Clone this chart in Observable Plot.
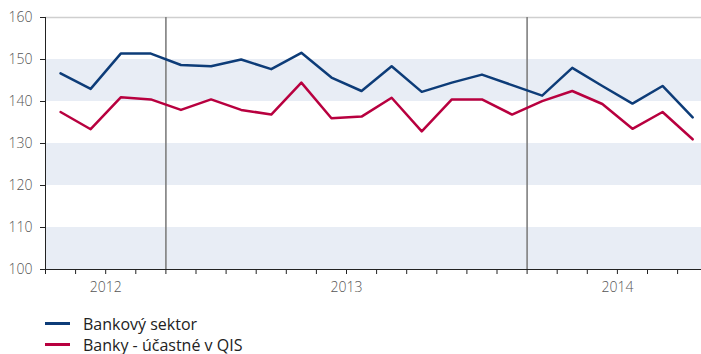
<!DOCTYPE html>
<html>
<head>
<meta charset="utf-8">
<script src="https://cdn.jsdelivr.net/npm/d3@7"></script>
<script src="https://cdn.jsdelivr.net/npm/@observablehq/plot@0.6"></script>
<style>
  html, body { margin: 0; padding: 0; background: #fff; overflow: hidden; }
  body { width: 701px; height: 354px; font-family: "Open Sans", sans-serif; }
  #chart svg { overflow: hidden; }
  .legend { margin-left: 45px; margin-top: 13px; }
  .legend .item { display: flex; align-items: center; height: 21px; font-size: 16px; color: #222; }
  .legend .swatch { width: 25px; height: 2.5px; margin-right: 13px; }
</style>
</head>
<body>
<div id="chart"></div>
<div class="legend" id="legend"></div>
<script>
// Years and number of months shown in each
const years = ["2012", "2013", "2014"];
const monthsInYear = [4, 12, 6];      // Sep–Dec 2012, Jan–Dec 2013, Jan–Jun 2014
const seriesNames = ["Bankový sektor", "Banky - účastné v QIS"];
const seriesColors = ["#0d3c78", "#b8003f"];
const bankovySektor = [146.7, 143.0, 151.4, 151.4,
  148.7, 148.4, 150.0, 147.7, 151.6, 145.7, 142.5, 148.4, 142.3, 144.5, 146.4, 143.9,
  141.4, 148.0, 143.7, 139.5, 143.7, 136.2];
const bankyQIS = [137.5, 133.4, 141.0, 140.5,
  138.0, 140.5, 138.0, 136.9, 144.5, 136.0, 136.4, 140.9, 132.9, 140.5, 140.5, 136.9,
  140.1, 142.5, 139.4, 133.5, 137.5, 131.0];
const yTicks = [100, 110, 120, 130, 140, 150, 160];
const bandRanges = [[100, 110], [120, 130], [140, 150]];

// Build table
const rows = [];
[bankovySektor, bankyQIS].forEach((vals, s) => {
  vals.forEach((v, i) => rows.push({series: seriesNames[s], i: i + 0.5, v}));
});
let acc = 0;
const yearStarts = [], yearCenters = [];
monthsInYear.forEach(m => { yearStarts.push(acc); yearCenters.push(acc + m / 2); acc += m; });
const total = acc;
const monthBounds = d3.range(0, total + 1);
const yearLines = yearStarts.slice(1);
const bands = bandRanges.map(([a, b]) => ({x1: 0, x2: total, y1: a, y2: b}));

const plot = Plot.plot({
  width: 701,
  height: 300,
  marginLeft: 45,
  marginRight: 0,
  marginTop: 17,
  marginBottom: 31,
  style: {fontFamily: "Open Sans, sans-serif", fontSize: "14px", color: "#555"},
  x: {domain: [0, total], range: [45, 45 + total * 30.1]},
  y: {domain: [100, 160]},
  color: {domain: seriesNames, range: seriesColors},
  marks: [
    Plot.rect(bands, {x1: "x1", x2: "x2", y1: "y1", y2: "y2", fill: "#e8edf5"}),
    Plot.ruleY([160], {stroke: "#cfcfcf", strokeWidth: 1.5}),
    Plot.ruleX(yearLines, {stroke: "#7f7f7f", strokeWidth: 1.6}),
    Plot.ruleX([0], {stroke: "#222", strokeWidth: 1}),
    Plot.ruleY([100], {stroke: "#222", strokeWidth: 1}),
    Plot.axisY({ticks: yTicks, tickSize: 5, tickPadding: 8, tickFormat: d => String(d), stroke: "#222", fill: "#555", fontWeight: 300, label: null}),
    Plot.axisX({ticks: monthBounds, tickSize: 5, tickFormat: () => "", stroke: "#222", label: null}),
    Plot.axisX({ticks: yearCenters, tickSize: 0, tickPadding: 13, tickFormat: (d) => years[yearCenters.indexOf(d)], fill: "#555", fontWeight: 300, label: null}),
    Plot.line(rows, {x: "i", y: "v", stroke: "series", z: "series", strokeWidth: 2.5, curve: "linear"})
  ]
});
document.getElementById("chart").appendChild(plot);

const legend = document.getElementById("legend");
seriesNames.forEach((name, k) => {
  const item = document.createElement("div");
  item.className = "item";
  const sw = document.createElement("span");
  sw.className = "swatch";
  sw.style.background = seriesColors[k];
  const t = document.createElement("span");
  t.textContent = name;
  item.appendChild(sw); item.appendChild(t);
  legend.appendChild(item);
});
</script>
</body>
</html>
